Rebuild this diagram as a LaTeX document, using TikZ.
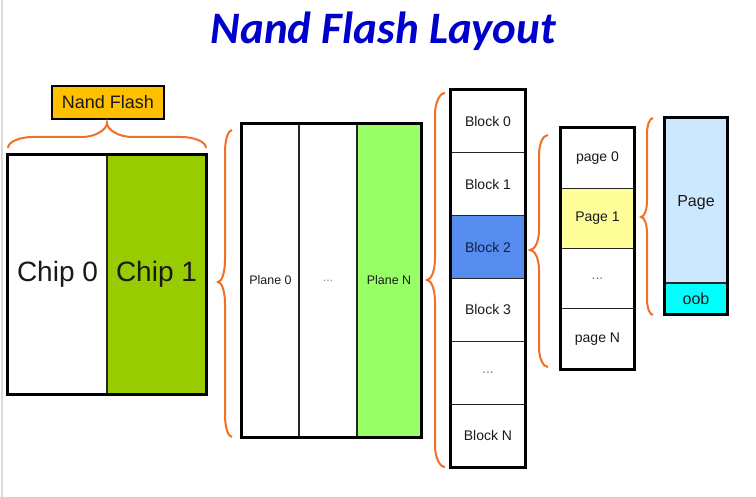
\documentclass[tikz,border=0pt]{standalone}
\usepackage{fontspec}
\setmainfont{Liberation Sans}
\newfontfamily\titlefont{Carlito}
\definecolor{braceor}{RGB}{240,112,40}
\definecolor{nflabel}{RGB}{255,192,0}
\definecolor{chipgreen}{RGB}{153,204,0}
\definecolor{planegreen}{RGB}{153,255,102}
\definecolor{blockblue}{RGB}{85,140,238}
\definecolor{pageyellow}{RGB}{255,255,153}
\definecolor{pageblue}{RGB}{204,232,255}
\definecolor{oobcyan}{RGB}{0,255,255}
\definecolor{titleblue}{RGB}{0,0,204}
\definecolor{txt}{RGB}{25,25,25}
\newcommand{\vbr}[7]{% #1 x ends, #2 x line, #3 x tip, #4 y top, #5 y tip, #6 y bottom, #7 radius
  \draw[bracestyle] (#1,#4) .. controls ({#1-0.552*(#1-#2)},#4) and (#2,{#4+0.448*#7}) .. (#2,{#4+#7})
    -- (#2,{#5-#7}) .. controls (#2,{#5-0.448*#7}) and ({#3+0.552*(#2-#3)},#5) .. (#3,#5)
    .. controls ({#3+0.552*(#2-#3)},#5) and (#2,{#5+0.448*#7}) .. (#2,{#5+#7})
    -- (#2,{#6-#7}) .. controls (#2,{#6-0.448*#7}) and ({#1-0.552*(#1-#2)},#6) .. (#1,#6);}
\begin{document}
\begin{tikzpicture}[x=1pt,y=-1pt,
  bracestyle/.style={draw=braceor, line width=2pt},
  cell/.style={draw=black!85, line width=1.2pt, inner sep=0pt, text=txt, anchor=center},
  outerbox/.style={draw=black, line width=2.4pt},
  every node/.style={font=\fontsize{14}{16}\selectfont}]
\useasboundingbox (0,0) rectangle (756,497);
\fill[white] (0,0) rectangle (756,497);
\draw[black!15, line width=1.5pt] (2,0) -- (2,497);

% title
\node[anchor=base, text=titleblue, font=\titlefont\bfseries\itshape\fontsize{45}{50}\selectfont] (title) at (383.5,44) {Nand Flash Layout};

% Nand Flash label
\node[draw=black, line width=1.8pt, fill=nflabel, minimum width=112, minimum height=33, inner sep=0pt, font=\fontsize{18}{20}\selectfont, text=txt] (nflabel) at (108,102.5) {Nand Flash};

% horizontal brace above chips
\draw[bracestyle] (8,148) .. controls (8,{148-0.552*11}) and ({8+0.448*25},137) .. (33,137)
  -- (82,137) .. controls ({107-0.448*25},137) and (107,{137-0.552*14}) .. (107,123)
  .. controls (107,{137-0.552*14}) and ({107+0.448*25},137) .. (132,137)
  -- (181,137) .. controls ({206-0.448*25},137) and (206,{148-0.552*11}) .. (206,148);

% chips
\node[cell, minimum width=99, minimum height=239, font=\fontsize{28}{32}\selectfont] (chip0) at (57.5,274.5) {Chip 0};
\node[cell, fill=chipgreen, minimum width=99, minimum height=239, font=\fontsize{28}{32}\selectfont] (chip1) at (156.5,274.5) {Chip 1};
\draw[outerbox] (chip0.north west) rectangle (chip1.south east);

% planes
\vbr{232}{225}{218}{130}{282}{437}{22}
\node[cell, minimum width=57, minimum height=313, font=\fontsize{12.4}{14}\selectfont] (plane0) at (270.5,280.5) {Plane 0};
\node[cell, minimum width=58, minimum height=313, font=\fontsize{12.4}{14}\selectfont, text=black!45] (planedots) at (328,280.5) {...};
\node[cell, fill=planegreen, minimum width=64, minimum height=313, font=\fontsize{12.4}{14}\selectfont] (planeN) at (389,280.5) {Plane N};
\draw[outerbox] (plane0.north west) rectangle (planeN.south east);

% blocks
\vbr{445}{435}{427}{93}{280}{467}{22}
\node[cell, minimum width=74, minimum height=62.83] (block0) at (488,121.4) {Block 0};
\node[cell, minimum width=74, minimum height=62.83] (block1) at (488,184.25) {Block 1};
\node[cell, fill=blockblue, minimum width=74, minimum height=62.83, text={rgb,255:red,20;green,30;blue,70}] (block2) at (488,247.1) {Block 2};
\node[cell, minimum width=74, minimum height=62.83] (block3) at (488,309.9) {Block 3};
\node[cell, minimum width=74, minimum height=62.83, text=black!55] (blockdots) at (488,372.75) {...};
\node[cell, minimum width=74, minimum height=62.83] (blockN) at (488,435.6) {Block N};
\draw[outerbox] (block0.north west) rectangle (blockN.south east);

% pages
\vbr{548}{539}{530}{135}{250}{367}{20}
\node[cell, minimum width=73, minimum height=60.25] (page0) at (597.5,158.1) {page 0};
\node[cell, fill=pageyellow, minimum width=73, minimum height=60.25] (page1) at (597.5,218.4) {Page 1};
\node[cell, minimum width=73, minimum height=60.25, text=black!55] (pagedots) at (597.5,278.6) {...};
\node[cell, minimum width=73, minimum height=60.25] (pageN) at (597.5,338.9) {page N};
\draw[outerbox] (page0.north west) rectangle (pageN.south east);

% page + oob
\vbr{653}{647}{641}{118}{217}{315}{16}
\node[cell, fill=pageblue, minimum width=62, minimum height=165, font=\fontsize{16}{18}\selectfont, text depth=0pt] (page) at (696,200.5) {Page};
\node[cell, fill=oobcyan, minimum width=62, minimum height=31, font=\fontsize{16}{18}\selectfont] (oob) at (696,298.5) {oob};
\draw[outerbox] (page.north west) rectangle (oob.south east);
\end{tikzpicture}
\end{document}
